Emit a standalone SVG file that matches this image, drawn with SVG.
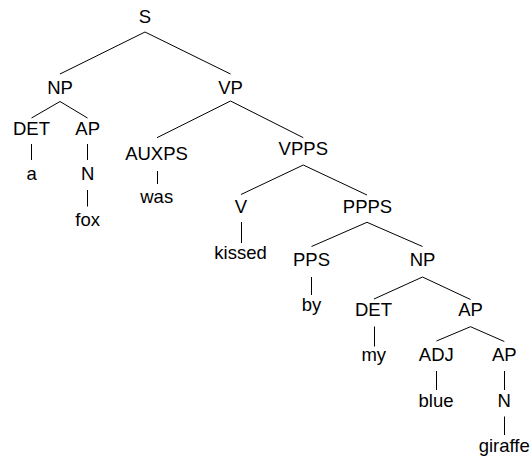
<svg xmlns="http://www.w3.org/2000/svg" width="532" height="458" viewBox="0 0 532 458">
<style>
text{font-family:"Liberation Sans",Arial,Helvetica,sans-serif;font-size:18.5px;fill:#000;text-anchor:middle}
.e line{stroke:#000;stroke-width:1;fill:none}
</style>
<rect width="532" height="458" fill="#fff"/>
<g id="connectors" class="e">
<line x1="145" y1="32" x2="60" y2="74"/>
<line x1="145" y1="32" x2="230.5" y2="74"/>
<line x1="60" y1="101.5" x2="31.5" y2="118"/>
<line x1="60" y1="101.5" x2="87.5" y2="118"/>
<line x1="31.5" y1="144" x2="31.5" y2="160"/>
<line x1="87.5" y1="144" x2="87.5" y2="160"/>
<line x1="87.5" y1="190" x2="87.5" y2="206.5"/>
<line x1="230.5" y1="101" x2="157" y2="137.7"/>
<line x1="230.5" y1="101" x2="303.3" y2="137.7"/>
<line x1="157.5" y1="171" x2="157.5" y2="184"/>
<line x1="303.3" y1="165" x2="241" y2="194.5"/>
<line x1="303.3" y1="165" x2="367" y2="195"/>
<line x1="241.5" y1="222" x2="241.5" y2="243"/>
<line x1="367" y1="222.3" x2="311.5" y2="246.5"/>
<line x1="367" y1="222.3" x2="422.5" y2="246.5"/>
<line x1="311.5" y1="277" x2="311.5" y2="295"/>
<line x1="422.5" y1="277" x2="374" y2="299"/>
<line x1="422.5" y1="277" x2="470.5" y2="299.5"/>
<line x1="374.5" y1="326.5" x2="374.5" y2="346.5"/>
<line x1="470.5" y1="326.7" x2="436.5" y2="341"/>
<line x1="470.5" y1="326.7" x2="504.3" y2="341.5"/>
<line x1="436.5" y1="371" x2="436.5" y2="390"/>
<line x1="504.5" y1="371" x2="504.5" y2="390"/>
<line x1="504.5" y1="416.5" x2="504.5" y2="435"/>
</g>
<g id="n-S"><text x="145" y="23">S</text></g>
<g id="n-NP1"><text x="60" y="93.5">NP</text></g>
<g id="n-VP"><text x="230.5" y="93.5">VP</text></g>
<g id="n-DET1"><text x="31.5" y="135">DET</text></g>
<g id="n-AP1"><text x="87.7" y="135">AP</text></g>
<g id="n-a"><text x="31.7" y="180">a</text></g>
<g id="n-N1"><text x="87.7" y="180">N</text></g>
<g id="n-fox"><text x="87.7" y="226">fox</text></g>
<g id="n-AUXPS"><text x="156.5" y="160">AUXPS</text></g>
<g id="n-was"><text x="156.7" y="203">was</text></g>
<g id="n-VPPS"><text x="303.3" y="155">VPPS</text></g>
<g id="n-V"><text x="241" y="213">V</text></g>
<g id="n-PPPS"><text x="367.5" y="213">PPPS</text></g>
<g id="n-kissed"><text x="240.5" y="259">kissed</text></g>
<g id="n-PPS"><text x="311.5" y="266">PPS</text></g>
<g id="n-NP2"><text x="422.5" y="266">NP</text></g>
<g id="n-by"><text x="311.5" y="311">by</text></g>
<g id="n-DET2"><text x="373.5" y="316">DET</text></g>
<g id="n-AP2"><text x="470.5" y="316">AP</text></g>
<g id="n-my"><text x="373.8" y="361">my</text></g>
<g id="n-ADJ"><text x="436.3" y="361">ADJ</text></g>
<g id="n-AP3"><text x="504.3" y="361">AP</text></g>
<g id="n-blue"><text x="436" y="406.5">blue</text></g>
<g id="n-N2"><text x="504.3" y="406.5">N</text></g>
<g id="n-giraffe"><text x="504.2" y="452">giraffe</text></g>
</svg>
